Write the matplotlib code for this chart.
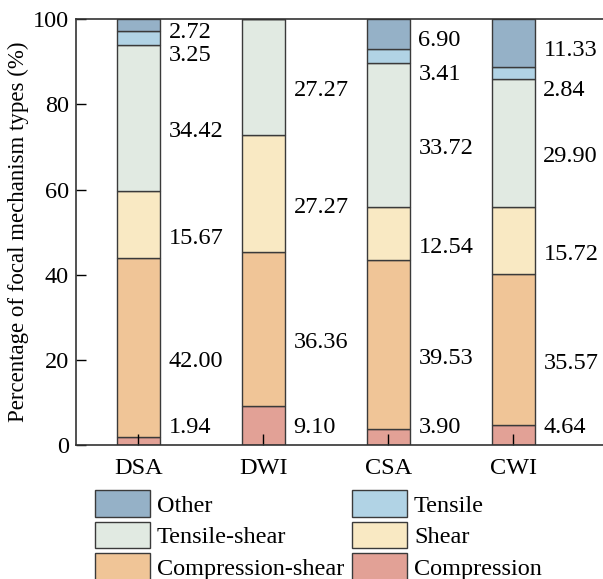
import numpy as np
import matplotlib
matplotlib.use("Agg")
import matplotlib.pyplot as plt

plt.rcParams["font.family"] = ["Liberation Serif", "DejaVu Serif"]

sites = ["DSA", "DWI", "CSA", "CWI"]
types = ["Compression", "Compression-shear", "Shear", "Tensile-shear", "Tensile", "Other"]
compression = [1.94, 9.10, 3.90, 4.64]
compression_shear = [42.00, 36.36, 39.53, 35.57]
shear = [15.67, 27.27, 12.54, 15.72]
tensile_shear = [34.42, 27.27, 33.72, 29.90]
tensile = [3.25, 0.0, 3.41, 2.84]
other = [2.72, 0.0, 6.90, 11.33]

colors = ["#e2a196", "#f0c597", "#f9e9c3", "#e1eae2", "#b1d3e5", "#95b1c7"]

series = [compression, compression_shear, shear, tensile_shear, tensile, other]

fig = plt.figure(figsize=(6.03, 5.79), dpi=100)
ax = fig.add_axes([0.126, 0.231, 0.874, 0.736])

x = np.arange(len(sites))
w = 0.345
bottom = np.zeros(len(sites))
handles = {}
for name, vals, c in zip(types, series, colors):
    vals = np.array(vals)
    bars = ax.bar(x, vals, w, bottom=bottom, color=c, edgecolor="#3a3a3a",
                  linewidth=1.0, label=name)
    handles[name] = bars
    bottom = bottom + vals

# value labels to the right of each bar
fs = 17.5
for i in range(len(sites)):
    xt = x[i] + w / 2 + 0.07
    base = 0.0
    tens_label = None
    for k, vals in enumerate(series):
        v = vals[i]
        if v == 0:
            base += v
            continue
        mid = base + v / 2
        if k == 0:
            y = 4.2
        elif k == 4:
            y = base - 2.6
            tens_label = y
        elif k == 5:
            y = min(mid, 96.7) - 1.6
            if tens_label is not None:
                y = max(y, tens_label + 5.4)
        else:
            y = mid - 3.2
        ax.text(xt, y, f"{v:.2f}", fontsize=fs, va="center", ha="left")
        base += v

ax.set_xlim(-0.5, 3.72)
ax.set_ylim(0, 100)
ax.set_xticks(x)
ax.set_xticklabels(sites)
ax.set_yticks([0, 20, 40, 60, 80, 100])
ax.tick_params(axis="both", direction="in", labelsize=fs, width=1.0)
ax.tick_params(axis="x", length=8, pad=9)
ax.tick_params(axis="y", length=7, pad=5)
ax.spines["right"].set_visible(False)
for s in ["left", "top", "bottom"]:
    ax.spines[s].set_linewidth(1.2)
    ax.spines[s].set_color("#333333")
ax.set_ylabel("Percentage of focal mechanism types (%)", fontsize=16.5, labelpad=3)

order = ["Other", "Tensile-shear", "Compression-shear", "Tensile", "Shear", "Compression"]
fig.legend([handles[n] for n in order], order, ncol=2, loc="upper left",
           bbox_to_anchor=(0.157, 0.153), frameon=False, fontsize=fs,
           handlelength=2.26, handleheight=1.3, labelspacing=0.2,
           handletextpad=0.29, columnspacing=0.33, borderpad=0,
           borderaxespad=0)

fig.savefig("out.png", dpi=100)
